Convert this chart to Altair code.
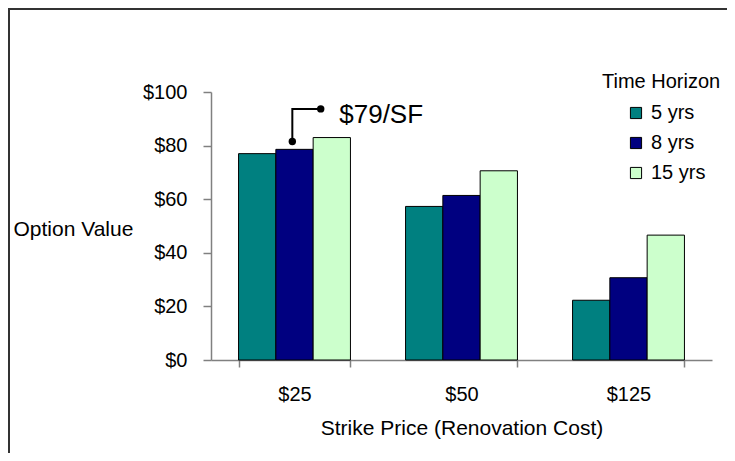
import altair as alt
import pandas as pd

strikes = ["$25", "$50", "$125"]
horizons = ["5 yrs", "8 yrs", "15 yrs"]
values_5 = [77, 57.3, 22.3]
values_8 = [78.6, 61.4, 30.7]
values_15 = [83, 70.6, 46.6]
colors = ["#008080", "#000080", "#CCFFCC"]

rows = []
for h, vals in zip(horizons, [values_5, values_8, values_15]):
    for s, v in zip(strikes, vals):
        rows.append({"strike": s, "horizon": h, "value": v})
df = pd.DataFrame(rows)

# callout annotation (x in group units, y in value units)
callout_x = [0.487, 0.487, 0.657]
callout_y = [81.5, 93.7, 93.7]
callout_order = [0, 1, 2]
dot_x = [0.487, 0.657]
dot_y = [81.5, 93.7]
label_text = ["$79/SF"]
label_x = [0.768]
label_y = [88.3]

FONT = "Liberation Sans"

bars = alt.Chart(df).mark_bar(stroke="black", strokeWidth=1).encode(
    x=alt.X("strike:N", sort=strikes,
            scale=alt.Scale(paddingInner=0.33, paddingOuter=0.165),
            axis=alt.Axis(title="Strike Price (Renovation Cost)", labelAngle=0,
                          tickBand="extent", tickSize=7, labelPadding=17,
                          titleY=68, titleBaseline="middle")),
    xOffset=alt.XOffset("horizon:N", sort=horizons,
                        scale=alt.Scale(paddingInner=0, paddingOuter=0)),
    y=alt.Y("value:Q", scale=alt.Scale(domain=[0, 100]),
            axis=alt.Axis(title="Option Value", values=[0, 20, 40, 60, 80, 100],
                          labelExpr="'$' + datum.value", tickSize=8, labelPadding=16,
                          titleAngle=0, titleAlign="left", titleBaseline="middle",
                          titleX=-198, titleY=137, grid=False)),
    color=alt.Color("horizon:N", sort=horizons,
                    scale=alt.Scale(domain=horizons, range=colors),
                    legend=alt.Legend(title="Time Horizon", orient="none",
                                      legendX=391, legendY=-20,
                                      symbolType="square", symbolSize=125,
                                      symbolStrokeColor="black", symbolStrokeWidth=1,
                                      symbolOffset=24, labelOffset=5,
                                      rowPadding=10, titlePadding=11, padding=0)),
    stroke=alt.value("black"),
)

line_df = pd.DataFrame({"x": callout_x, "y": callout_y, "o": callout_order})
callout_line = alt.Chart(line_df).mark_line(color="black", strokeWidth=2).encode(
    x=alt.X("x:Q", scale=alt.Scale(domain=[0, 3]), axis=None),
    y=alt.Y("y:Q"),
    order="o:Q",
)
dots_df = pd.DataFrame({"x": dot_x, "y": dot_y})
callout_dots = alt.Chart(dots_df).mark_point(filled=True, color="black", size=55, opacity=1).encode(
    x=alt.X("x:Q", scale=alt.Scale(domain=[0, 3]), axis=None),
    y=alt.Y("y:Q"),
)
text_df = pd.DataFrame({"x": label_x, "y": label_y, "t": label_text})
callout_text = alt.Chart(text_df).mark_text(align="left", baseline="alphabetic",
                                             fontSize=26, font=FONT, color="black").encode(
    x=alt.X("x:Q", scale=alt.Scale(domain=[0, 3]), axis=None),
    y=alt.Y("y:Q"),
    text="t:N",
)

frame_data = alt.Data(values=[{}])
frame_left = alt.Chart(frame_data).mark_rule(color="#333333", strokeWidth=2).encode(
    x=alt.value(-202), y=alt.value(-83), y2=alt.value(400))
frame_top = alt.Chart(frame_data).mark_rule(color="#333333", strokeWidth=2).encode(
    x=alt.value(-203), x2=alt.value(560), y=alt.value(-83))

annot = alt.layer(callout_line, callout_dots, callout_text)

chart = alt.layer(bars, annot, frame_left, frame_top).resolve_scale(
    x="independent"
).properties(
    width=501, height=268,
    autosize=alt.AutoSizeParams(type="none"),
    padding={"left": 203, "top": 84, "right": 15, "bottom": 93},
    background="white",
).configure_axis(
    labelFont=FONT, titleFont=FONT, labelFontSize=20, titleFontSize=21,
    labelColor="black", titleColor="black", titleFontWeight="normal",
    domainColor="#808080", tickColor="#808080", domainWidth=1.5, tickWidth=1.5,
).configure_legend(
    labelFont=FONT, titleFont=FONT, labelFontSize=20, titleFontSize=20,
    labelColor="black", titleColor="black", titleFontWeight="normal",
).configure_view(stroke=None)

chart.save("out.html", embed_options={"renderer": "svg", "actions": False})
